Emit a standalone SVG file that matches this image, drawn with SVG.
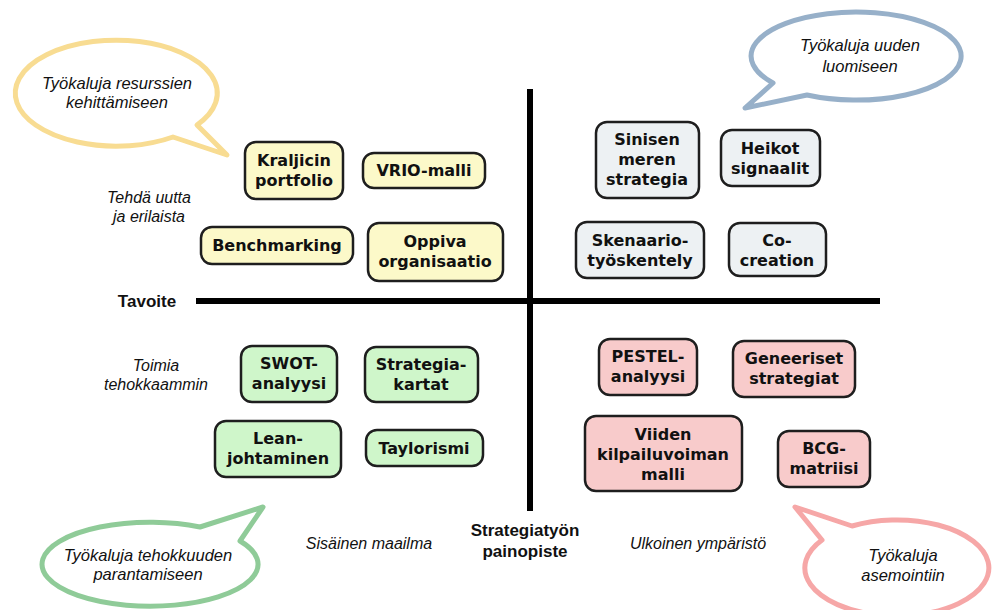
<svg xmlns="http://www.w3.org/2000/svg" width="992" height="610" viewBox="0 0 992 610">
<style>
.n{stroke:#1e1e1e;stroke-width:2.5}
.y{fill:#fcf9c9}.b{fill:#edf1f3}.g{fill:#cff6ca}.p{fill:#f8cbcb}
.t{font-family:"DejaVu Sans",Verdana,sans-serif;font-weight:bold;font-size:16px;fill:#111;text-anchor:middle}
.i{font-family:"Liberation Sans",Arial,sans-serif;font-style:italic;font-size:16px;fill:#111;text-anchor:middle}
.bi{font-size:16.5px}
.l{font-family:"Liberation Sans",Arial,sans-serif;font-weight:bold;font-size:17px;fill:#111;text-anchor:middle}
.bub{fill:#fff;stroke-width:5;stroke-linejoin:round}
</style>
<rect width="992" height="610" fill="#fff"/>
<g id="bubble-resurssit">
<path class="bub" stroke="#f8dc92" d="M197,125 A101,53 0 1 0 173,137 L227,155 Z"/>
<text class="i bi" x="117" y="89">Työkaluja resurssien</text>
<text class="i bi" x="117" y="108">kehittämiseen</text>
</g>
<g id="bubble-uuden">
<path class="bub" stroke="#97b0c9" d="M773,83 A105,44 0 1 1 807,95 L745,108 Z"/>
<text class="i bi" x="860" y="51">Työkaluja uuden</text>
<text class="i bi" x="860" y="72">luomiseen</text>
</g>
<g id="bubble-tehokkuus">
<path class="bub" stroke="#8fcb98" d="M200,527 A108,42 0 1 0 240,541 L263,507 Z"/>
<text class="i bi" x="148" y="561">Työkaluja tehokkuuden</text>
<text class="i bi" x="148" y="580">parantamiseen</text>
</g>
<g id="bubble-asemointi">
<path class="bub" stroke="#f6a7a7" d="M852,526 A92,48 0 1 1 822,540 L795,507 Z"/>
<text class="i bi" x="903" y="561">Työkaluja</text>
<text class="i bi" x="903" y="581">asemointiin</text>
</g>
<g id="axes">
<line x1="530" y1="89" x2="530" y2="511" stroke="#000" stroke-width="6"/>
<line x1="196" y1="301" x2="880" y2="301" stroke="#000" stroke-width="6"/>
</g>
<g id="labels">
<text class="i" x="149" y="203">Tehdä uutta</text>
<text class="i" x="149" y="222">ja erilaista</text>
<text class="l" x="147" y="307">Tavoite</text>
<text class="i" x="156" y="371">Toimia</text>
<text class="i" x="156" y="390">tehokkaammin</text>
<text class="i" x="369" y="549">Sisäinen maailma</text>
<text class="l" x="525" y="536">Strategiatyön</text>
<text class="l" x="525" y="557">painopiste</text>
<text class="i" x="698" y="549">Ulkoinen ympäristö</text>
</g>
<g id="kraljicin"><rect class="n y" x="245" y="142" width="98" height="57" rx="11"/><text class="t" x="294" y="166">Kraljicin</text><text class="t" x="294" y="186">portfolio</text></g>
<g id="vrio"><rect class="n y" x="363" y="153" width="122" height="35" rx="11"/><text class="t" x="424" y="176">VRIO-malli</text></g>
<g id="benchmarking"><rect class="n y" x="201" y="227" width="152" height="37" rx="11"/><text class="t" x="277" y="251">Benchmarking</text></g>
<g id="oppiva"><rect class="n y" x="368" y="223" width="135" height="58" rx="11"/><text class="t" x="435" y="247">Oppiva</text><text class="t" x="435" y="267">organisaatio</text></g>
<g id="sinisen"><rect class="n b" x="596" y="122" width="103" height="76" rx="11"/><text class="t" x="647" y="145">Sinisen</text><text class="t" x="647" y="165">meren</text><text class="t" x="647" y="185">strategia</text></g>
<g id="heikot"><rect class="n b" x="721" y="130" width="99" height="56" rx="11"/><text class="t" x="770" y="154">Heikot</text><text class="t" x="770" y="174">signaalit</text></g>
<g id="skenaario"><rect class="n b" x="576" y="222" width="128" height="56" rx="11"/><text class="t" x="640" y="246">Skenaario-</text><text class="t" x="640" y="266">työskentely</text></g>
<g id="cocreation"><rect class="n b" x="729" y="223" width="97" height="53" rx="11"/><text class="t" x="777" y="246">Co-</text><text class="t" x="777" y="266">creation</text></g>
<g id="swot"><rect class="n g" x="241" y="346" width="96" height="56" rx="11"/><text class="t" x="289" y="369">SWOT-</text><text class="t" x="289" y="389">analyysi</text></g>
<g id="strategiakartat"><rect class="n g" x="365" y="347" width="113" height="55" rx="11"/><text class="t" x="421" y="370">Strategia-</text><text class="t" x="421" y="390">kartat</text></g>
<g id="lean"><rect class="n g" x="215" y="421" width="126" height="56" rx="11"/><text class="t" x="278" y="444">Lean-</text><text class="t" x="278" y="464">johtaminen</text></g>
<g id="taylorismi"><rect class="n g" x="366" y="430" width="117" height="36" rx="11"/><text class="t" x="424" y="454">Taylorismi</text></g>
<g id="pestel"><rect class="n p" x="599" y="339" width="98" height="56" rx="11"/><text class="t" x="648" y="362">PESTEL-</text><text class="t" x="648" y="382">analyysi</text></g>
<g id="geneeriset"><rect class="n p" x="733" y="341" width="122" height="56" rx="11"/><text class="t" x="794" y="364">Geneeriset</text><text class="t" x="794" y="384">strategiat</text></g>
<g id="viiden"><rect class="n p" x="585" y="416" width="157" height="75" rx="11"/><text class="t" x="663" y="440">Viiden</text><text class="t" x="663" y="460">kilpailuvoiman</text><text class="t" x="663" y="480">malli</text></g>
<g id="bcg"><rect class="n p" x="778" y="431" width="92" height="56" rx="11"/><text class="t" x="824" y="454">BCG-</text><text class="t" x="824" y="474">matriisi</text></g>
</svg>
